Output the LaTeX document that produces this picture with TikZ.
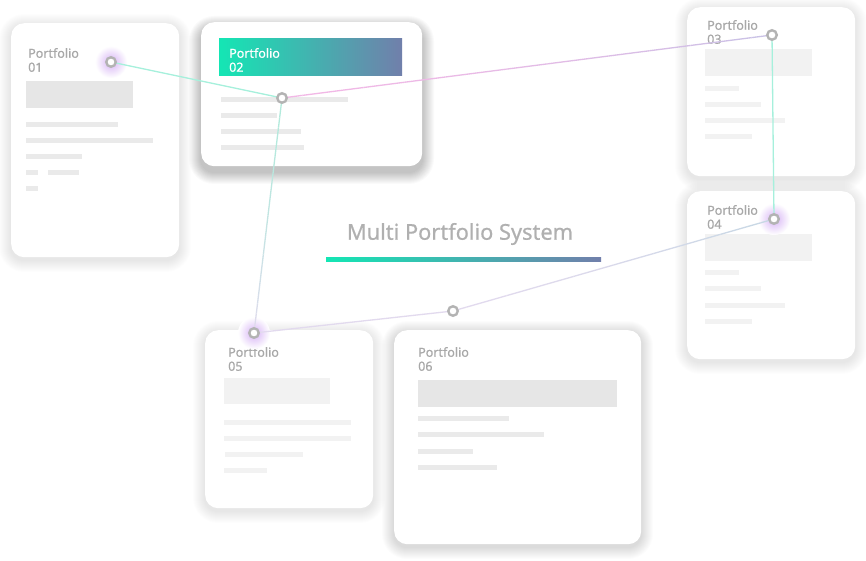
\documentclass[tikz,border=0pt]{standalone}
\usepackage{fontspec}
\setmainfont{Noto Sans}
\newfontfamily\medfont{Noto Sans}[FakeBold=0.6]
\usetikzlibrary{calc}
\definecolor{tealA}{HTML}{14E6B4}
\definecolor{slateB}{HTML}{717FAB}
\definecolor{txtgray}{HTML}{A8A8A8}
\definecolor{ttlgray}{HTML}{B0B0B0}
\definecolor{ringgray}{HTML}{B3B3B3}
\definecolor{barD}{HTML}{E6E6E6}
\definecolor{barM}{HTML}{EAEAEA}
\definecolor{barL}{HTML}{F2F2F2}
\definecolor{lnTeal}{HTML}{A6F0DC}
\definecolor{lnPink}{HTML}{F2B8E6}
\definecolor{lnLav}{HTML}{C8C2E6}
\definecolor{lnLav2}{HTML}{E2DAEE}
\definecolor{lnBlue}{HTML}{C6D8E4}
\definecolor{lnTeal2}{HTML}{B2EADC}
\definecolor{glowcol}{HTML}{D6B2F5}
\newcommand{\gradseg}[4]{%
  \foreach \i in {0,...,23}{%
    \pgfmathsetmacro\pa{\i/24}%
    \pgfmathsetmacro\pb{(\i+1)/24}%
    \pgfmathtruncatemacro\pc{100*((\i+0.5)/24)^1.6}%
    \draw[conn, color=#4!\pc!#3] ($(#1)!\pa!(#2)$) -- ($(#1)!\pb!(#2)$);}}
\newcommand{\skelbar}[4]{\fill[#1] (#2,#4-2.5) rectangle (#3,#4+2.5);}
% name, x, y, w, h, layer opacity, shadow offset
\newcommand{\cardbox}[7]{%
  \foreach \k in {1,...,12}{%
    \pgfmathsetmacro\rr{13+\k}%
    \fill[black, opacity=#6, rounded corners=\rr pt] (#2-\k,#3-\k+#7) rectangle (#2+#4+\k,#3+#5+\k+#7);}
  \node[card, minimum width=#4pt, minimum height=#5pt] (#1) at (#2,#3) {};}
\begin{document}
\begin{tikzpicture}[x=1pt,y=-1pt,
  card/.style={rectangle, rounded corners=13pt, fill=white, inner sep=0pt, anchor=north west},
  lbl/.style={anchor=west, align=left, inner sep=0pt, text=txtgray, font=\medfont\fontsize{12.5}{14}\selectfont},
  conn/.style={line width=1.3pt},
  dot/.style={circle, draw=ringgray, line width=2.4pt, fill=white, minimum size=9.5pt, inner sep=0pt},
  glow/.style={inner color=glowcol, outer color=white}]
\useasboundingbox[fill=white] (0,0) rectangle (866,561);

% cards
\cardbox{c1}{11}{23}{168}{234}{0.008}{3}
\cardbox{c2}{201}{22}{221}{144}{0.019}{6}
\cardbox{c3}{687}{7}{168}{169}{0.008}{3}
\cardbox{c4}{687}{191}{168}{168}{0.008}{3}
\cardbox{c5}{205}{330}{168}{178}{0.008}{3}
\cardbox{c6}{394}{330}{247}{214}{0.01}{3}

% card 01 content
\node[lbl] (t1) at (28,60) {Portfolio\\01};
\fill[barD] (26,81) rectangle (133,108);
\skelbar{barM}{26}{118}{124.5}
\skelbar{barM}{26}{153}{140.5}
\skelbar{barM}{26}{82}{156.5}
\skelbar{barM}{26}{38}{173}
\skelbar{barM}{48}{79}{173}
\skelbar{barM}{26}{38}{189}

% card 02 content
\shade[left color=tealA, right color=slateB] (219,39) rectangle (402,76);
\node[lbl, text=white] (t2) at (229,60) {Portfolio\\02};
\skelbar{barM}{221}{348}{100}
\skelbar{barM}{221}{277}{116}
\skelbar{barM}{221}{301}{132}
\skelbar{barM}{221}{304}{148}

% card 03 content
\node[lbl] (t3) at (707,32) {Portfolio\\03};
\fill[barL] (705,49) rectangle (812,76);
\skelbar{barL}{705}{739}{89}
\skelbar{barL}{705}{761}{105}
\skelbar{barL}{705}{785}{121}
\skelbar{barL}{705}{752}{137}

% card 04 content
\node[lbl] (t4) at (707,217) {Portfolio\\04};
\fill[barL] (705,234) rectangle (812,261);
\skelbar{barL}{705}{739}{272}
\skelbar{barL}{705}{761}{288}
\skelbar{barL}{705}{785}{305}
\skelbar{barL}{705}{752}{321}

% card 05 content
\node[lbl] (t5) at (228,359) {Portfolio\\05};
\fill[barL] (224,378) rectangle (330,404);
\skelbar{barL}{224}{351}{422}
\skelbar{barL}{224}{351}{438}
\skelbar{barL}{225}{303}{454}
\skelbar{barL}{224}{267}{470}

% card 06 content
\node[lbl] (t6) at (418,359) {Portfolio\\06};
\fill[barD] (418,380) rectangle (617,407);
\skelbar{barM}{418}{509}{418}
\skelbar{barM}{418}{544}{434}
\skelbar{barM}{418}{473}{451}
\skelbar{barM}{418}{497}{467}

% title
\node[inner sep=0pt, text=ttlgray, font=\medfont\fontsize{21.8}{24}\selectfont] (title) at (460,234) {Multi Portfolio System};
\shade[left color=tealA, right color=slateB] (326,257) rectangle (601,261);

% connector points
\coordinate (p1) at (111,62);
\coordinate (p2) at (282,98);
\coordinate (p3) at (772,35);
\coordinate (p4) at (774,219);
\coordinate (p5) at (254,333);
\coordinate (p6) at (453,311);

% glows
\shade[glow] (p1) circle (16);
\shade[glow] (p4) circle (16);
\shade[glow] (p5) circle (16);

% connectors
\draw[conn, lnTeal] (p1) -- (p2);
\gradseg{p2}{p3}{lnPink}{lnLav}
\draw[conn, lnTeal] (p3) -- (p4);
\gradseg{p2}{p5}{lnTeal2}{lnLav2}
\draw[conn, lnLav2] (p5) -- (p6);
\gradseg{p6}{p4}{lnLav2}{lnBlue}

% dots
\node[dot] (d1) at (p1) {};
\node[dot] (d2) at (p2) {};
\node[dot] (d3) at (p3) {};
\node[dot] (d4) at (p4) {};
\node[dot] (d5) at (p5) {};
\node[dot] (d6) at (p6) {};
\end{tikzpicture}
\end{document}
